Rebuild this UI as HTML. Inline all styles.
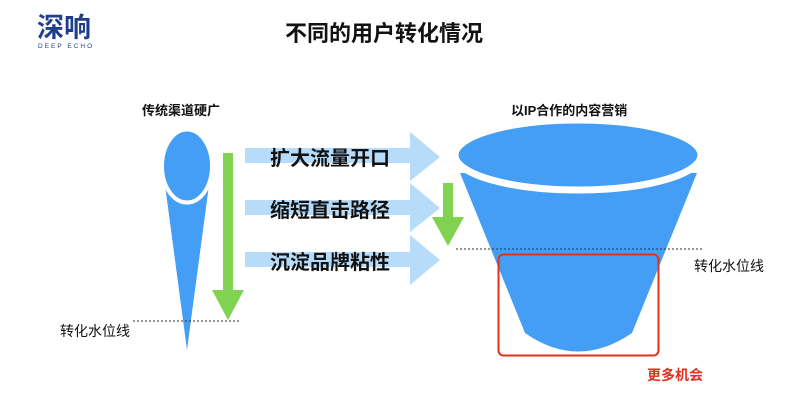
<!DOCTYPE html>
<html><head><meta charset="utf-8"><style>
body{margin:0;width:800px;height:403px;background:#fff;overflow:hidden;position:relative;font-family:"Liberation Sans","Noto Sans CJK SC",sans-serif}
.t{position:absolute;white-space:nowrap;color:#111}
</style></head><body>
<svg width="800" height="403" style="position:absolute;left:0;top:0">
<text x="37" y="37" font-size="27" font-weight="bold" fill="#1f3f8a" font-family="Noto Sans CJK SC,sans-serif">深响</text>
<text x="38" y="48" font-size="6.5" fill="#1f3f8a" letter-spacing="2" font-family="Liberation Sans,sans-serif">DEEP ECHO</text>
<path d="M165,185 L209,185 L187,350 Z" fill="#459ef5"/>
<ellipse cx="187" cy="166" rx="25" ry="36.5" fill="#459ef5" stroke="#fff" stroke-width="4"/>
<rect x="223" y="153" width="10" height="137" fill="#7fd350"/>
<polygon points="212,290 244,290 228,320" fill="#7fd350"/>
<line x1="133" y1="321" x2="240" y2="321" stroke="#333" stroke-width="1" stroke-dasharray="2,2"/>
<g fill="#b6dcf9">
<rect x="245" y="148" width="166" height="15"/><polygon points="410,132 440,157 410,181"/>
<rect x="245" y="200" width="166" height="15"/><polygon points="410,183 440,208 410,232"/>
<rect x="245" y="252" width="166" height="15"/><polygon points="410,235 440,260 410,285"/>
</g>
<path d="M460,173 L697,173 L632,333 Q578,370 525,333 Z" fill="#459ef5"/>
<ellipse cx="578" cy="155" rx="123" ry="35" fill="#459ef5" stroke="#fff" stroke-width="7"/>
<rect x="443" y="183" width="10" height="34" fill="#7fd350"/>
<polygon points="432,217 464,217 448,246" fill="#7fd350"/>
<line x1="456" y1="249" x2="702" y2="249" stroke="#333" stroke-width="1" stroke-dasharray="2,2"/>
<rect x="498.5" y="254.5" width="160" height="101" rx="5" fill="none" stroke="#e0301e" stroke-width="2"/>
</svg>
<div class="t" style="left:285px;top:16px;font-size:22px;font-weight:bold">不同的用户转化情况</div>
<div class="t" style="left:142px;top:100px;font-size:13px;font-weight:bold">传统渠道硬广</div>
<div class="t" style="left:511px;top:100px;font-size:13px;font-weight:bold">以IP合作的内容营销</div>
<div class="t" style="left:270px;top:142px;font-size:20px;font-weight:bold">扩大流量开口</div>
<div class="t" style="left:270px;top:194px;font-size:20px;font-weight:bold">缩短直击路径</div>
<div class="t" style="left:270px;top:246px;font-size:20px;font-weight:bold">沉淀品牌粘性</div>
<div class="t" style="left:60px;top:321px;font-size:14px">转化水位线</div>
<div class="t" style="left:694px;top:256px;font-size:14px">转化水位线</div>
<div class="t" style="left:647px;top:365px;font-size:14px;font-weight:bold;color:#e0301e">更多机会</div>
</body></html>
